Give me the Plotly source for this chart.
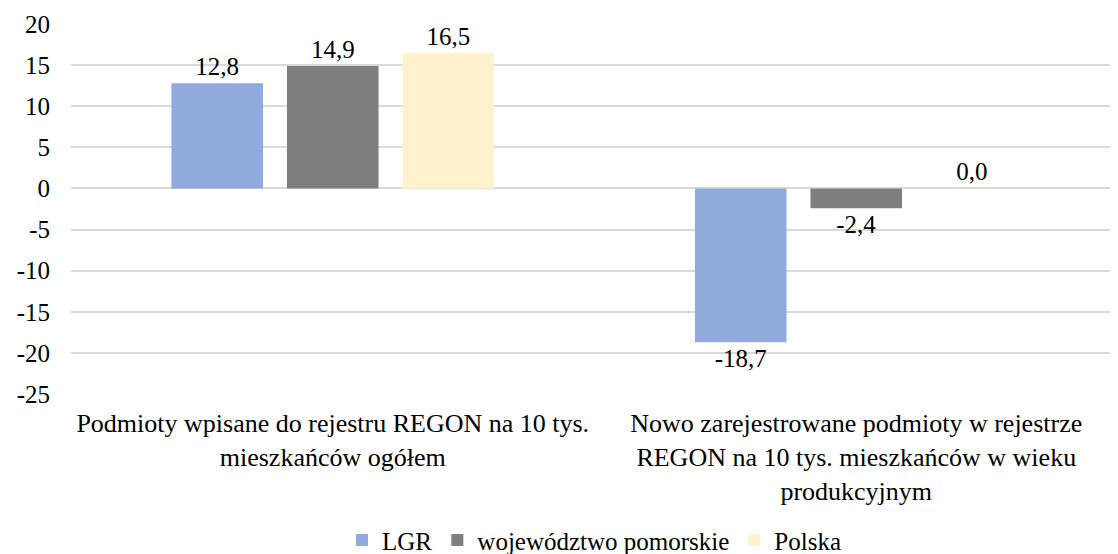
import plotly.graph_objects as go

categories = [
    "Podmioty wpisane do rejestru REGON na 10 tys.<br>mieszkańców ogółem",
    "Nowo zarejestrowane podmioty w rejestrze<br>REGON na 10 tys. mieszkańców w wieku<br>produkcyjnym",
]
series_names = ["LGR", "województwo pomorskie", "Polska"]
lgr = [12.8, -18.7]
pomorskie = [14.9, -2.4]
polska = [16.5, 0.0]
colors = ["#8FAADC", "#7F7F7F", "#FFF2CC"]
y_ticks = [20, 15, 10, 5, 0, -5, -10, -15, -20, -25]
y_tick_text = [str(v) for v in y_ticks]

FONT = "Liberation Serif"
FS = 25

fig = go.Figure()
for name, vals, col in zip(series_names, [lgr, pomorskie, polska], colors):
    fig.add_trace(go.Bar(
        name=name, x=categories, y=vals, marker=dict(color=col, line=dict(width=0)),
        text=[f"{v:.1f}".replace(".", ",") for v in vals],
        textposition="outside", cliponaxis=False,
        textfont=dict(family=FONT, size=FS, color="#000000"),
        outsidetextfont=dict(family=FONT, size=FS, color="#000000"),
    ))

# page body has an 8px margin, so the figure is sized/offset to compensate
fig.update_layout(
    width=1110, height=546,
    margin=dict(l=63, r=0, t=16, b=160, autoexpand=False),
    paper_bgcolor="white", plot_bgcolor="white",
    barmode="group", bargap=0.338, bargroupgap=0.207,
    font=dict(family=FONT, size=FS, color="#000000"),
    showlegend=True,
    legend=dict(orientation="h", x=0.5, xanchor="center", y=-0.395, yanchor="middle",
                font=dict(family=FONT, size=FS, color="#000000"), traceorder="normal"),
)
fig.update_yaxes(range=[-25, 20], tickvals=y_ticks, ticktext=y_tick_text, showgrid=True,
                 gridcolor="#D9D9D9", gridwidth=1.5, automargin=False,
                 zeroline=True, zerolinecolor="#D9D9D9", zerolinewidth=1.5, showline=False,
                 ticklabelstandoff=20, tickfont=dict(family=FONT, size=FS, color="#000000"))
fig.update_xaxes(showline=False, automargin=False, tickfont=dict(family=FONT, size=26, color="#000000"),
                 ticklabelstandoff=11)

fig.write_html("out.html")
